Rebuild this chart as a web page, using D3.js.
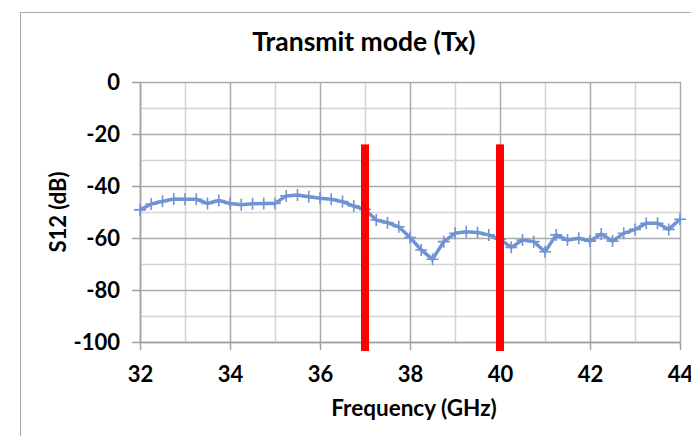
<!DOCTYPE html>
<html>
<head>
<meta charset="utf-8">
<script src="https://cdn.jsdelivr.net/npm/d3@7"></script>
<style>
  html, body { margin: 0; padding: 0; background: #fff; }
  svg { display: block; font-family: Lato, "Open Sans", sans-serif; }
</style>
</head>
<body>
<svg id="chart" width="691" height="436"></svg>
<script>
// Measured S12 in transmit mode, 32–44 GHz, 0.25 GHz step
const frequencies = [
  32.00, 32.25, 32.50, 32.75, 33.00, 33.25, 33.50, 33.75,
  34.00, 34.25, 34.50, 34.75, 35.00, 35.25, 35.50, 35.75,
  36.00, 36.25, 36.50, 36.75, 37.00, 37.25, 37.50, 37.75,
  38.00, 38.25, 38.50, 38.75, 39.00, 39.25, 39.50, 39.75,
  40.00, 40.25, 40.50, 40.75, 41.00, 41.25, 41.50, 41.75,
  42.00, 42.25, 42.50, 42.75, 43.00, 43.25, 43.50, 43.75, 44.00
];
const s12 = [
  -49.2, -46.9, -45.9, -45.0, -45.1, -45.1, -46.7, -45.6,
  -46.7, -47.2, -46.8, -46.7, -46.7, -43.8, -43.5, -44.1,
  -44.7, -45.1, -46.0, -47.7, -49.0, -53.1, -54.1, -55.7,
  -59.8, -64.6, -68.2, -61.4, -58.2, -57.6, -57.9, -58.8,
  -60.5, -63.6, -60.8, -61.4, -65.3, -58.8, -60.8, -60.1,
  -61.2, -58.5, -61.2, -58.2, -56.7, -54.3, -54.3, -56.7, -52.8
];
// Operating band edges (GHz) and the level where the markers start (dB)
const bandEdges = [37, 40];
const bandMarkerTop = -24;

const xTicks = [32, 34, 36, 38, 40, 42, 44];
const xMinor = [33, 35, 37, 39, 41, 43];
const yTicks = [0, -20, -40, -60, -80, -100];
const yMinor = [-10, -30, -50, -70, -90];

const svg = d3.select("#chart");
const plot = { left: 140, right: 680, top: 82, bottom: 342 };

const x = d3.scaleLinear().domain([32, 44]).range([plot.left, plot.right]);
const y = d3.scaleLinear().domain([-100, 0]).range([plot.bottom, plot.top]);

// Chart frame
svg.append("rect")
  .attr("x", 20.5).attr("y", 12.5)
  .attr("width", 700).attr("height", 460)
  .attr("fill", "none").attr("stroke", "#a9a9a9").attr("stroke-width", 1);

// Title
svg.append("text")
  .attr("x", 364).attr("y", 51)
  .attr("text-anchor", "middle")
  .attr("font-size", 26.5).attr("font-weight", 700)
  .attr("fill", "#000")
  .text("Transmit mode (Tx)");

// Gridlines
const grid = svg.append("g");
grid.selectAll("line.hmin").data(yMinor).join("line")
  .attr("x1", plot.left).attr("x2", plot.right)
  .attr("y1", d => y(d) + 0.5).attr("y2", d => y(d) + 0.5)
  .attr("stroke", "#d4d4d4").attr("stroke-width", 1.5);
grid.selectAll("line.vmin").data(xMinor).join("line")
  .attr("y1", plot.top).attr("y2", plot.bottom)
  .attr("x1", d => x(d) + 0.5).attr("x2", d => x(d) + 0.5)
  .attr("stroke", "#d4d4d4").attr("stroke-width", 1.5);
grid.selectAll("line.hmaj").data(yTicks).join("line")
  .attr("x1", plot.left).attr("x2", plot.right)
  .attr("y1", d => y(d) + 0.5).attr("y2", d => y(d) + 0.5)
  .attr("stroke", "#ababab").attr("stroke-width", 1.5);
grid.selectAll("line.vmaj").data(xTicks).join("line")
  .attr("y1", plot.top).attr("y2", plot.bottom)
  .attr("x1", d => x(d) + 0.5).attr("x2", d => x(d) + 0.5)
  .attr("stroke", "#ababab").attr("stroke-width", 1.5);

// Axes
const xAxis = svg.append("g")
  .attr("transform", `translate(0,${plot.bottom})`)
  .call(d3.axisBottom(x).tickValues(xTicks).tickSize(8).tickSizeOuter(0).tickFormat(d3.format("d")));
const yAxis = svg.append("g")
  .attr("transform", `translate(${plot.left},0)`)
  .call(d3.axisLeft(y).tickValues(yTicks).tickSize(8).tickSizeOuter(0).tickFormat(d => d === 0 ? "0" : "-" + Math.abs(d)));

[xAxis, yAxis].forEach(g => {
  g.select(".domain").attr("stroke", "#a0a0a0").attr("stroke-width", 1.5);
  g.selectAll(".tick line").attr("stroke", "#a0a0a0").attr("stroke-width", 1.5);
  g.selectAll(".tick text")
    .attr("fill", "#000").attr("font-size", 22).attr("font-weight", 700)
    .attr("font-family", "Lato, 'Open Sans', sans-serif");
});
xAxis.selectAll(".tick text").attr("y", 40).attr("dy", 0);
yAxis.selectAll(".tick text").attr("x", -20).attr("dy", "0.36em");

// Axis titles
svg.append("text")
  .attr("x", 414).attr("y", 416)
  .attr("text-anchor", "middle")
  .attr("font-size", 22.5).attr("font-weight", 700)
  .text("Frequency (GHz)");
svg.append("text")
  .attr("transform", "translate(66,212) rotate(-90)")
  .attr("text-anchor", "middle")
  .attr("font-size", 22).attr("font-weight", 700)
  .text("S12 (dB)");

// S12 trace
const pts = frequencies.map((f, i) => ({ f, v: s12[i] }));
const line = d3.line().x(d => x(d.f)).y(d => y(d.v));
svg.append("path")
  .datum(pts)
  .attr("d", line)
  .attr("fill", "none")
  .attr("stroke", "#7193d2")
  .attr("stroke-width", 3.5)
  .attr("stroke-linejoin", "round");

// Plus markers
const markers = svg.append("g").attr("stroke", "#7193d2").attr("stroke-width", 1.6);
markers.selectAll("path").data(pts).join("path")
  .attr("d", d => {
    const cx = x(d.f), cy = y(d.v), h = 6;
    return `M${cx - h},${cy}H${cx + h}M${cx},${cy - h}V${cy + h}`;
  });

// Band edge markers
svg.selectAll("rect.band").data(bandEdges).join("rect")
  .attr("class", "band")
  .attr("x", d => x(d) - 4)
  .attr("y", y(bandMarkerTop))
  .attr("width", 8)
  .attr("height", y(-100) - y(bandMarkerTop) + 9)
  .attr("fill", "#ff0000");
</script>
</body>
</html>
